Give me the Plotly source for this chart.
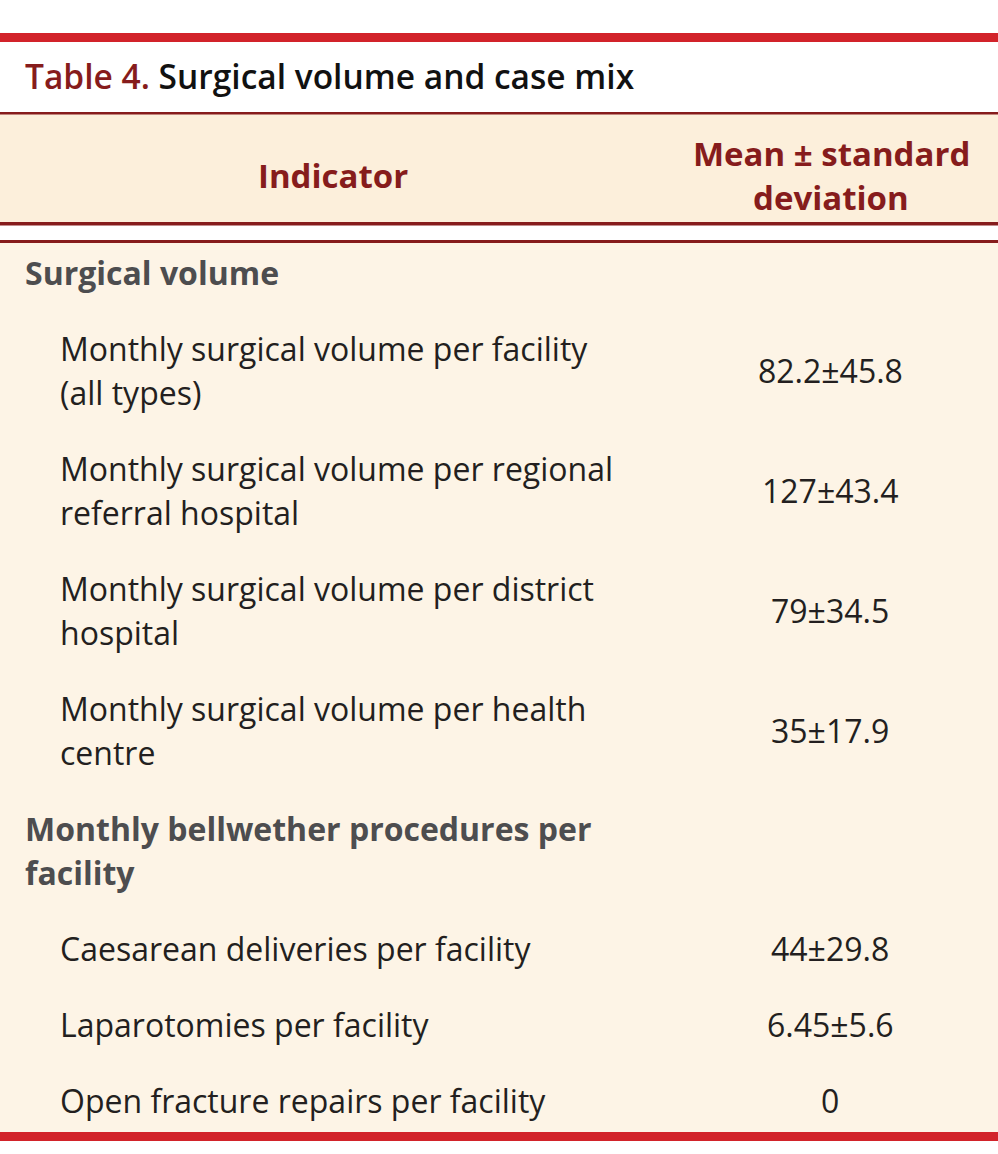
import textwrap
import plotly.graph_objects as go

# table content
title_label = "Table 4."
title_text = "Surgical volume and case mix"
col_headers = ["Indicator", "Mean ± standard<br>deviation"]
sections = ["Surgical volume", "Monthly bellwether procedures per facility"]
indicators = [
    "Monthly surgical volume per facility (all types)",
    "Monthly surgical volume per regional referral hospital",
    "Monthly surgical volume per district hospital",
    "Monthly surgical volume per health centre",
    "Caesarean deliveries per facility",
    "Laparotomies per facility",
    "Open fracture repairs per facility",
]
values = ["82.2±45.8", "127±43.4", "79±34.5", "35±17.9", "44±29.8", "6.45±5.6", "0"]
row_section = [0, 0, 0, 0, 1, 1, 1]

W, H = 998, 1154
FONT = "Open Sans"
DARK_RED = "#861c1c"
RED = "#d2232a"
GREY = "#4d4d4f"
INK = "#231f20"

fig = go.Figure()

shapes = [
    dict(type="rect", x0=0, x1=W, y0=114, y1=223, fillcolor="#fcefdb", line_width=0, layer="below"),
    dict(type="rect", x0=0, x1=W, y0=242, y1=1133, fillcolor="#fdf4e6", line_width=0, layer="below"),
    dict(type="rect", x0=0, x1=W, y0=33, y1=42, fillcolor=RED, line_width=0),
    dict(type="rect", x0=0, x1=W, y0=1132, y1=1141, fillcolor=RED, line_width=0),
    dict(type="rect", x0=0, x1=W, y0=112, y1=114.5, fillcolor=DARK_RED, line_width=0),
    dict(type="rect", x0=0, x1=W, y0=222, y1=225.5, fillcolor=DARK_RED, line_width=0),
    dict(type="rect", x0=0, x1=W, y0=240, y1=243, fillcolor=DARK_RED, line_width=0),
]

ann = []
ann.append(dict(
    x=23, y=76, xanchor="left", yanchor="middle",
    text=f"<span style='color:{DARK_RED}'>{title_label}</span> {title_text}",
    font=dict(family=FONT, size=33.5, color="#111111", weight=600),
))
ann.append(dict(x=333, y=175, xanchor="center", yanchor="middle", text=col_headers[0],
                font=dict(family=FONT, size=33, color=DARK_RED, weight=700)))
for i, line in enumerate(col_headers[1].split("<br>")):
    ann.append(dict(x=831, y=153 + 44 * i, xanchor="center", yanchor="middle", text=line,
                    font=dict(family=FONT, size=33, color=DARK_RED, weight=700)))

LINE = 44
PAD = 32


def add_row(lines, x, font, value=None):
    global cursor
    h = PAD + LINE * len(lines)
    top = cursor + PAD / 2
    for k, ln in enumerate(lines):
        ann.append(dict(x=x, y=top + LINE * (k + 0.5), xanchor="left", yanchor="middle",
                        text=ln, font=font))
    if value is not None:
        ann.append(dict(x=830, y=cursor + h / 2, xanchor="center", yanchor="middle",
                        text=value, font=dict(family=FONT, size=32, color=INK)))
    cursor += h


cursor = 234
sec_font = dict(family=FONT, size=32, color=GREY, weight=700)
row_font = dict(family=FONT, size=32, color=INK)
for s, name in enumerate(sections):
    add_row(textwrap.wrap(name, 33), 23, sec_font)
    for label, val, sec in zip(indicators, values, row_section):
        if sec == s:
            add_row(textwrap.wrap(label, 36), 58, row_font, val)

for a in ann:
    a.update(xref="x", yref="y", showarrow=False)

fig.update_layout(
    width=W, height=H,
    margin=dict(l=0, r=0, t=0, b=0),
    paper_bgcolor="white", plot_bgcolor="white",
    xaxis=dict(range=[0, W], visible=False, fixedrange=True),
    yaxis=dict(range=[H, 0], visible=False, fixedrange=True),
    shapes=shapes, annotations=ann, showlegend=False,
)

fig.write_html("out.html", config={"displayModeBar": False},
               post_script="document.body.style.margin='0';")
